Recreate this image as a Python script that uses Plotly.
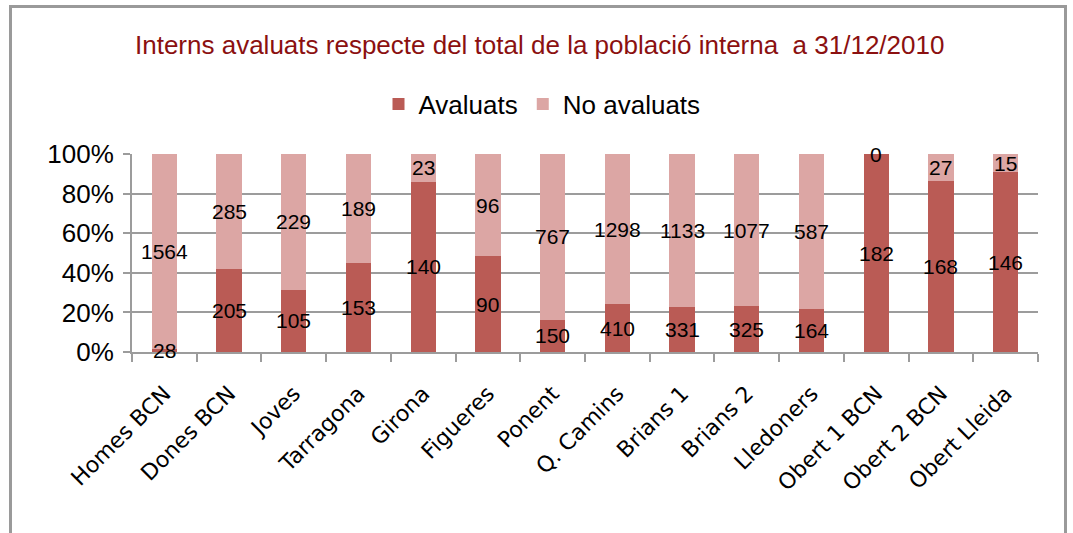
import plotly.graph_objects as go

categories = ["Homes BCN", "Dones BCN", "Joves", "Tarragona", "Girona", "Figueres", "Ponent",
              "Q. Camins", "Brians 1", "Brians 2", "Lledoners", "Obert 1 BCN", "Obert 2 BCN", "Obert Lleida"]
avaluats = [28, 205, 105, 153, 140, 90, 150, 410, 331, 325, 164, 182, 168, 146]
no_avaluats = [1564, 285, 229, 189, 23, 96, 767, 1298, 1133, 1077, 587, 0, 27, 15]
y_ticks = [0, 20, 40, 60, 80, 100]

C_AV = "#BA5B55"
C_NO = "#DCA6A4"
GRID = "#9C9C9C"
FONT = "Liberation Sans, Arial, sans-serif"

fig = go.Figure()
fig.add_trace(go.Bar(x=categories, y=avaluats, name="Avaluats", marker=dict(color=C_AV, line=dict(width=0))))
fig.add_trace(go.Bar(x=categories, y=no_avaluats, name="No avaluats", marker=dict(color=C_NO, line=dict(width=0))))

annotations = []
for c, a, n in zip(categories, avaluats, no_avaluats):
    tot = a + n
    pa = a / tot * 100
    pn = n / tot * 100
    annotations.append(dict(x=c, y=pa / 2, text=str(a), showarrow=False,
                            font=dict(size=21, color="black", family=FONT), yanchor="middle"))
    annotations.append(dict(x=c, y=pa + pn / 2, text=str(n), showarrow=False,
                            font=dict(size=21, color="black", family=FONT), yanchor="middle"))

PL, PR, PT, PB = 132, 1038, 154, 352
L, R, T, B = PL, 1073 - PR, PT, 533 - PB
W = PR - PL
H = PB - PT

def px2x(p):
    return (p - PL) / W

def py2y(p):
    return (PB - p) / H

fig.update_layout(
    width=1073, height=533,
    margin=dict(l=L, r=R, t=T, b=B, pad=0),
    barmode="stack", barnorm="percent", bargap=0.61,
    paper_bgcolor="white", plot_bgcolor="white",
    font=dict(family=FONT, color="black"),
    title=dict(text="Interns avaluats respecte del total de la població interna  a 31/12/2010",
               x=0.503, xref="container", xanchor="center", y=1 - 45 / 533, yanchor="middle",
               yref="container",
               font=dict(size=26, color="#8B1010", family=FONT)),
    legend=dict(orientation="h", x=542 / 1073, xanchor="center", xref="container",
                y=1 - 104 / 533, yanchor="middle", yref="container",
                font=dict(size=26, color="black", family=FONT),
                itemwidth=30, traceorder="normal", bgcolor="rgba(0,0,0,0)"),
    annotations=annotations,
    shapes=[dict(type="rect", xref="paper", yref="paper",
                 x0=px2x(10.5), x1=px2x(1065.5), y0=py2y(560), y1=py2y(6.5),
                 line=dict(color="#9A9A9A", width=3), fillcolor="rgba(0,0,0,0)", layer="below")],
    showlegend=True,
)
fig.update_yaxes(range=[0, 100], tickvals=y_ticks, ticktext=[f"{v}%" for v in y_ticks],
                 showgrid=True, gridcolor=GRID, gridwidth=2,
                 showline=True, linecolor=GRID, linewidth=2,
                 ticks="outside", ticklen=7, tickcolor=GRID, tickwidth=2,
                 ticklabelstandoff=4,
                 tickfont=dict(size=26, color="black", family=FONT), zeroline=False)
fig.update_xaxes(showline=True, linecolor=GRID, linewidth=2,
                 ticks="outside", tickson="boundaries", ticklen=8, tickcolor=GRID, tickwidth=2,
                 tickangle=-45, ticklabelstandoff=18,
                 tickfont=dict(size=22, color="black", family="DejaVu Sans, Verdana, sans-serif"),
                 showgrid=False)

fig.write_html("out.html", config={"displayModeBar": False},
               post_script="document.body.style.margin='0px';")
